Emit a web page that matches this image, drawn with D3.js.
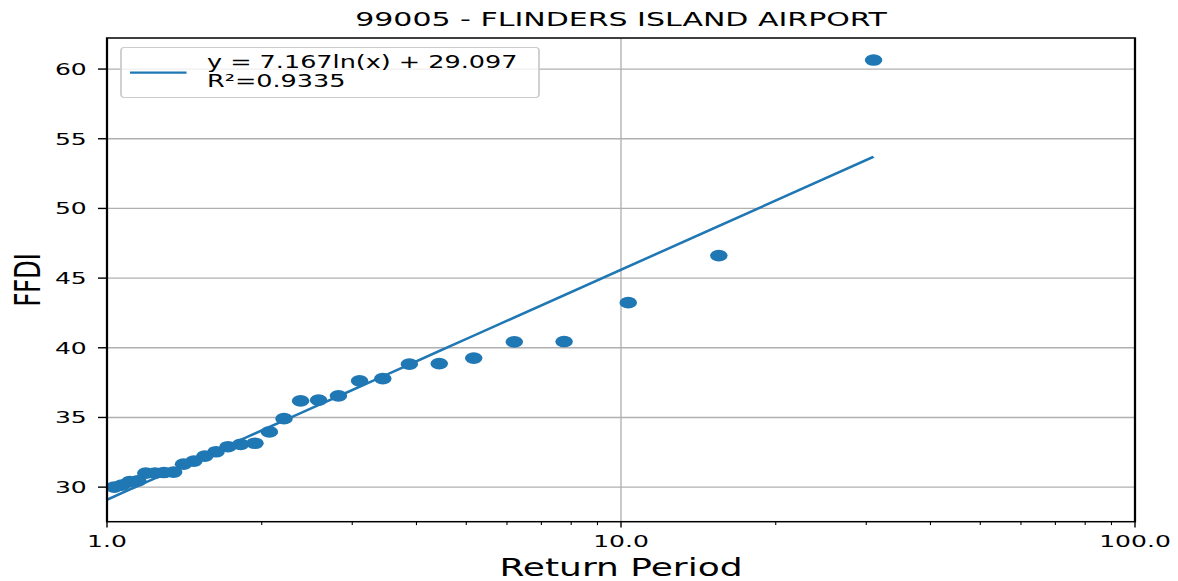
<!DOCTYPE html>
<html>
<head>
<meta charset="utf-8">
<script src="https://cdn.jsdelivr.net/npm/d3@7"></script>
<style>
  body { margin: 0; background: #fff; }
  text { font-family: "DejaVu Sans", sans-serif; fill: #000; }
</style>
</head>
<body>
<div class="chart"></div>
<script>
// data
var returnPeriods = [31.0, 15.5, 10.33, 7.75, 6.2, 5.17, 4.43, 3.875, 3.44, 3.1, 2.82, 2.58, 2.38, 2.21, 2.07,
                     1.94, 1.82, 1.72, 1.63, 1.55, 1.476, 1.409, 1.348, 1.29, 1.24, 1.19, 1.148, 1.107, 1.069, 1.033]
var ffdi = [60.65, 46.62, 43.24, 40.45, 40.43, 39.26, 38.87, 38.83, 37.79, 37.63, 36.55, 36.24, 36.19, 34.91, 33.96,
            33.15, 33.07, 32.9, 32.54, 32.23, 31.87, 31.65, 31.08, 31.05, 31.0, 31.0, 30.45, 30.4, 30.15, 30.0]
var fitSlope = 7.167
var fitIntercept = 29.097
var legendLines = ["y = 7.167ln(x) + 29.097", "R\u00b2=0.9335"]
var xTicks = [1, 10, 100]
var xTickLabels = ["1.0", "10.0", "100.0"]
var xMinorTicks = [2, 3, 4, 5, 6, 7, 8, 9, 20, 30, 40, 50, 60, 70, 80, 90]
var yTicks = [30, 35, 40, 45, 50, 55, 60]
var title = "99005 - FLINDERS ISLAND AIRPORT"

// the picture is stretched sideways, so draw in a narrower space and scale it
var S = 1.5
var fullW = 1178, fullH = 581
var pLeft = 107 / S, pRight = 1135 / S, pTop = 38, pBottom = 521.7
var blue = "#1f77b4"

var svg = d3.select(".chart")
  .append("svg")
    .attr("width", fullW)
    .attr("height", fullH)
var g = svg.append("g").attr("transform", "scale(" + S + ",1)")

var x = d3.scaleLog().domain([1, 100]).range([pLeft, pRight])
var y = d3.scaleLinear().domain([27.52, 62.23]).range([pBottom, pTop])

// grid
g.append("g").selectAll("line")
  .data(yTicks).enter().append("line")
    .attr("x1", pLeft).attr("x2", pRight)
    .attr("y1", function(d){ return y(d) }).attr("y2", function(d){ return y(d) })
    .attr("stroke", "#b0b0b0").attr("stroke-width", 1.33)
g.append("g").selectAll("line")
  .data(xTicks).enter().append("line")
    .attr("x1", function(d){ return x(d) }).attr("x2", function(d){ return x(d) })
    .attr("y1", pTop).attr("y2", pBottom)
    .attr("stroke", "#b0b0b0").attr("stroke-width", 1.33 / S)

// fit line, drawn from x = 1 up to the last return period
var fitX = [1].concat(returnPeriods.slice().sort(d3.ascending))
var line = d3.line()
  .x(function(d){ return x(d) })
  .y(function(d){ return y(fitSlope * Math.log(d) + fitIntercept) })

var clip = g.append("clipPath").attr("id", "plotclip")
clip.append("rect").attr("x", pLeft).attr("y", pTop).attr("width", pRight - pLeft).attr("height", pBottom - pTop)

var plot = g.append("g").attr("clip-path", "url(#plotclip)")

plot.selectAll("circle")
  .data(returnPeriods).enter().append("circle")
    .attr("cx", function(d){ return x(d) })
    .attr("cy", function(d, i){ return y(ffdi[i]) })
    .attr("r", 5.85)
    .attr("fill", blue)

plot.append("path")
  .attr("d", line(fitX))
  .attr("fill", "none")
  .attr("stroke", blue)
  .attr("stroke-width", 2.3)

// frame
g.append("rect")
  .attr("x", pLeft).attr("y", pTop)
  .attr("width", pRight - pLeft).attr("height", pBottom - pTop)
  .attr("fill", "none").attr("stroke", "#000").attr("stroke-width", 1.5)

// y ticks
var yAxis = g.append("g")
yAxis.selectAll("line")
  .data(yTicks).enter().append("line")
    .attr("x1", pLeft - 6).attr("x2", pLeft)
    .attr("y1", function(d){ return y(d) }).attr("y2", function(d){ return y(d) })
    .attr("stroke", "#000").attr("stroke-width", 1.4)
yAxis.selectAll("text")
  .data(yTicks).enter().append("text")
    .attr("x", pLeft - 13.5)
    .attr("y", function(d){ return y(d) })
    .attr("dy", "0.36em")
    .attr("text-anchor", "end")
    .style("font-size", "16.7px")
    .text(function(d){ return d })

// x ticks
var xAxis = g.append("g")
xAxis.selectAll("line.major")
  .data(xTicks).enter().append("line")
    .attr("class", "major")
    .attr("x1", function(d){ return x(d) }).attr("x2", function(d){ return x(d) })
    .attr("y1", pBottom).attr("y2", pBottom + 5.8)
    .attr("stroke", "#000").attr("stroke-width", 1.4 / S)
xAxis.selectAll("line.minor")
  .data(xMinorTicks).enter().append("line")
    .attr("class", "minor")
    .attr("x1", function(d){ return x(d) }).attr("x2", function(d){ return x(d) })
    .attr("y1", pBottom).attr("y2", pBottom + 3.4)
    .attr("stroke", "#000").attr("stroke-width", 1.1 / S)
xAxis.selectAll("text")
  .data(xTicks).enter().append("text")
    .attr("x", function(d){ return x(d) })
    .attr("y", 547.5)
    .attr("text-anchor", "middle")
    .style("font-size", "16.7px")
    .text(function(d, i){ return xTickLabels[i] })

// labels
g.append("text")
  .attr("x", (pLeft + pRight) / 2).attr("y", 26)
  .attr("text-anchor", "middle")
  .style("font-size", "20px")
  .text(title)
g.append("text")
  .attr("x", (pLeft + pRight) / 2).attr("y", 576)
  .attr("text-anchor", "middle")
  .style("font-size", "24px")
  .text("Return Period")
g.append("text")
  .attr("transform", "translate(" + (39.5 / S) + "," + ((pTop + pBottom) / 2) + ") rotate(-90)")
  .attr("text-anchor", "middle")
  .style("font-size", "24px")
  .text("FFDI")

// legend
var leg = g.append("g")
leg.append("rect")
  .attr("x", 121 / S).attr("y", 47.5)
  .attr("width", (539 - 121) / S).attr("height", 50)
  .attr("rx", 3 / S).attr("ry", 3)
  .attr("fill", "#fff").attr("fill-opacity", 0.8)
  .attr("stroke", "#cccccc").attr("stroke-width", 1.2)
leg.append("line")
  .attr("x1", 130 / S).attr("x2", 186.5 / S)
  .attr("y1", 72.7).attr("y2", 72.7)
  .attr("stroke", blue).attr("stroke-width", 2.3)
leg.selectAll("text")
  .data(legendLines).enter().append("text")
    .attr("x", 207 / S)
    .attr("y", function(d, i){ return 68.3 + i * 19 })
    .style("font-size", "17px")
    .text(function(d){ return d })
</script>
</body>
</html>
